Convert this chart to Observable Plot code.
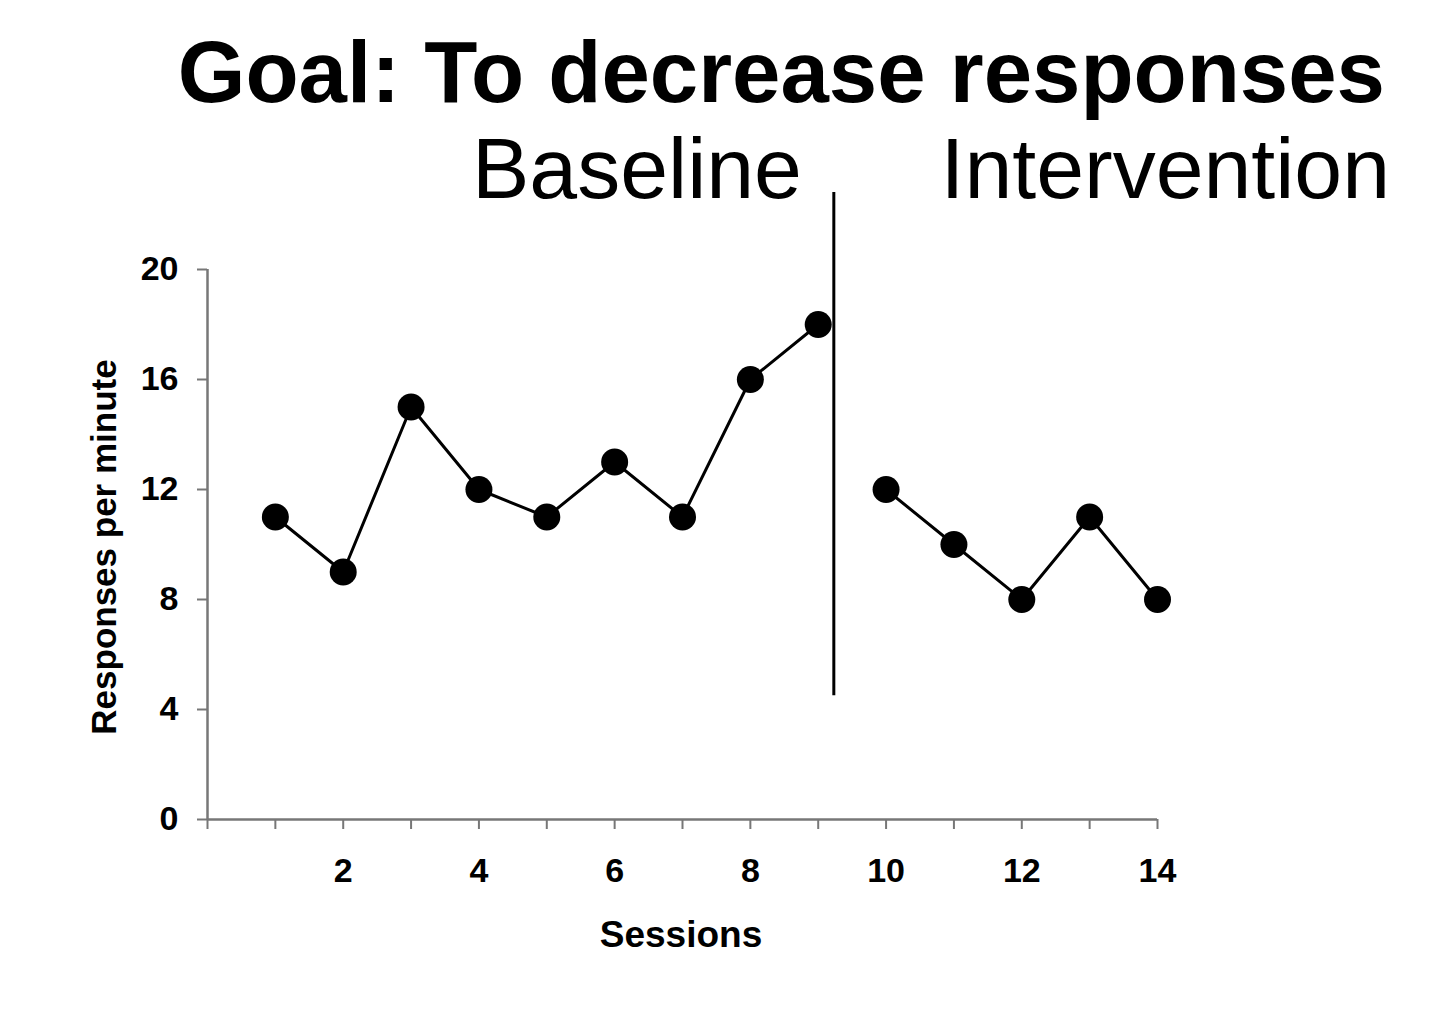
<!DOCTYPE html>
<html>
<head>
<meta charset="utf-8">
<script src="https://cdn.jsdelivr.net/npm/d3@7"></script>
<script src="https://cdn.jsdelivr.net/npm/@observablehq/plot@0.6"></script>
<style>
html, body { margin: 0; padding: 0; background: #fff; }
#wrap { position: relative; width: 1440px; height: 1021px; font-family: "Liberation Sans", Arial, sans-serif; overflow: hidden; }
.t { position: absolute; white-space: nowrap; color: #000; line-height: 1; }
#title { right: 55px; top: 28px; font-size: 87px; font-weight: bold; }
#base { left: 472px; top: 125px; font-size: 86px; }
#interv { right: 50px; top: 125px; font-size: 86px; }
#xlab { left: 681px; top: 916px; font-size: 37px; font-weight: bold; transform: translateX(-50%); }
#ylab { left: 103px; top: 547px; font-size: 35px; font-weight: bold; transform: translate(-50%, -50%) rotate(-90deg); }
#chart { position: absolute; left: 0; top: 0; }
</style>
</head>
<body>
<div id="wrap">
  <div id="chart"></div>
  <div class="t" id="title">Goal: To decrease responses</div>
  <div class="t" id="base">Baseline</div>
  <div class="t" id="interv">Intervention</div>
  <div class="t" id="xlab">Sessions</div>
  <div class="t" id="ylab">Responses per minute</div>
</div>
<script>
// Data
const baselineSessions = [1, 2, 3, 4, 5, 6, 7, 8, 9];
const baselineValues   = [11, 9, 15, 12, 11, 13, 11, 16, 18];
const interventionSessions = [10, 11, 12, 13, 14];
const interventionValues   = [12, 10, 8, 11, 8];
const phaseChangeAt = 9.23;
const phaseLineSpan = [4.5, 22.8];
const yTicks = [0, 4, 8, 12, 16, 20];
const xTicks = [0, 1, 2, 3, 4, 5, 6, 7, 8, 9, 10, 11, 12, 13, 14];

const baseline = baselineSessions.map((s, i) => ({session: s, value: baselineValues[i], phase: "Baseline"}));
const intervention = interventionSessions.map((s, i) => ({session: s, value: interventionValues[i], phase: "Intervention"}));
const all = baseline.concat(intervention);

const chart = Plot.plot({
  width: 1440,
  height: 1021,
  marginLeft: 207,
  marginRight: 283,
  marginTop: 269,
  marginBottom: 202,
  style: {fontFamily: "'Liberation Sans', Arial, sans-serif", background: "transparent", overflow: "visible"},
  x: {domain: [0, 14]},
  y: {domain: [0, 20]},
  marks: [
    Plot.axisY({ticks: yTicks, tickSize: 10, tickPadding: 19, fontSize: 34, fontWeight: "bold", stroke: "#777", strokeWidth: 2, fill: "black", label: null}),
    Plot.axisX({ticks: xTicks, tickSize: 10, tickPadding: 28, fontSize: 34, fontWeight: "bold", stroke: "#777", strokeWidth: 2, fill: "black", label: null,
      tickFormat: d => (d > 0 && d % 2 === 0) ? String(d) : ""}),
    Plot.ruleY([0], {stroke: "#777", strokeWidth: 2.5}),
    Plot.ruleX([0], {stroke: "#777", strokeWidth: 2.5}),
    Plot.ruleX([phaseChangeAt], {y1: phaseLineSpan[0], y2: phaseLineSpan[1], stroke: "black", strokeWidth: 3}),
    Plot.line(all, {x: "session", y: "value", z: "phase", stroke: "black", strokeWidth: 3}),
    Plot.dot(all, {x: "session", y: "value", r: 13.5, fill: "black", stroke: "none"})
  ]
});
document.getElementById("chart").appendChild(chart);
</script>
</body>
</html>
